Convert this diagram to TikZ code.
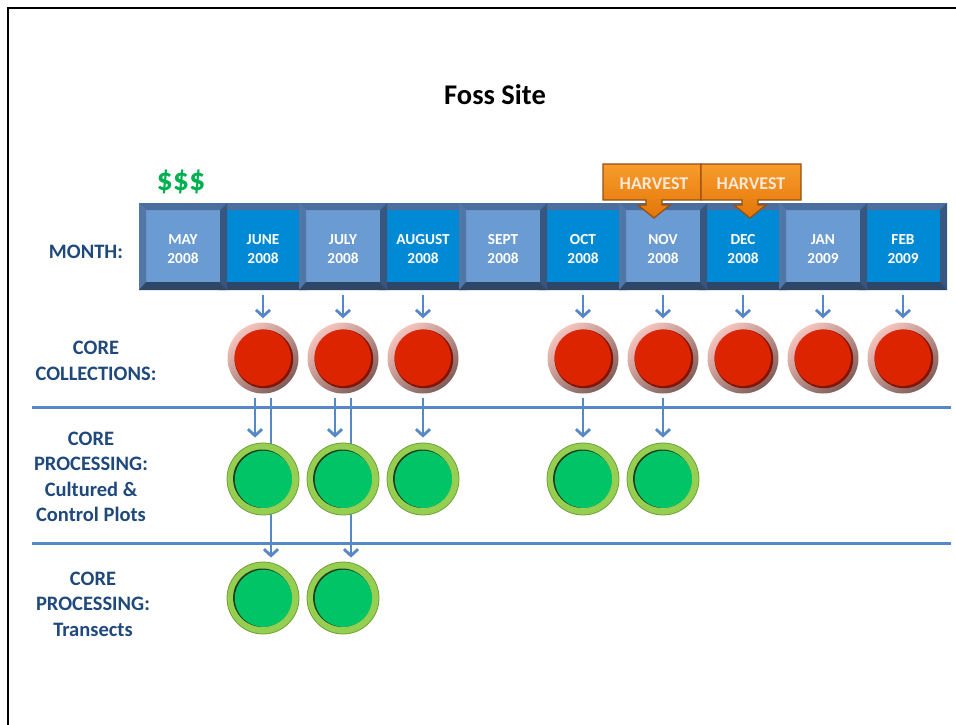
\documentclass[tikz,border=0pt]{standalone}
\usepackage{fontspec}
\setmainfont{Carlito}
\usetikzlibrary{arrows.meta}
\pgfdeclarelayer{bg}
\pgfdeclarelayer{paper}
\pgfsetlayers{paper,bg,main}

\definecolor{lface}{RGB}{106,155,210}
\definecolor{dface}{RGB}{0,137,212}
\definecolor{bvT}{RGB}{74,110,158}
\definecolor{bvL}{RGB}{82,118,165}
\definecolor{bvR}{RGB}{56,86,126}
\definecolor{bvB}{RGB}{46,70,104}
\definecolor{labblue}{RGB}{31,73,125}
\definecolor{connc}{RGB}{86,136,198}
\definecolor{moneyg}{RGB}{0,176,80}
\definecolor{rtop}{RGB}{246,196,190}
\definecolor{rbot}{RGB}{128,92,88}
\definecolor{rcore}{RGB}{220,36,0}
\definecolor{rdark}{RGB}{130,20,5}
\definecolor{gring}{RGB}{150,206,82}
\definecolor{gedge}{RGB}{112,160,52}
\definecolor{gcore}{RGB}{0,196,102}
\definecolor{gdark}{RGB}{30,60,30}
\definecolor{otop}{RGB}{248,156,44}
\definecolor{obot}{RGB}{226,118,8}
\definecolor{oedge}{RGB}{150,80,18}
\definecolor{otext}{RGB}{252,232,216}

\tikzset{
  monthbox/.style={rectangle, minimum width=88pt, minimum height=87pt, inner sep=0pt,
    path picture={
      \fill[bvT] (path picture bounding box.north west) -- (path picture bounding box.north east)
        -- ([shift={(-7pt,-7pt)}]path picture bounding box.north east)
        -- ([shift={(7pt,-7pt)}]path picture bounding box.north west) -- cycle;
      \fill[bvL] (path picture bounding box.north west) -- (path picture bounding box.south west)
        -- ([shift={(7pt,8pt)}]path picture bounding box.south west)
        -- ([shift={(7pt,-7pt)}]path picture bounding box.north west) -- cycle;
      \fill[bvR] (path picture bounding box.north east) -- (path picture bounding box.south east)
        -- ([shift={(-7pt,8pt)}]path picture bounding box.south east)
        -- ([shift={(-7pt,-7pt)}]path picture bounding box.north east) -- cycle;
      \fill[bvB] (path picture bounding box.south west) -- (path picture bounding box.south east)
        -- ([shift={(-7pt,8pt)}]path picture bounding box.south east)
        -- ([shift={(7pt,8pt)}]path picture bounding box.south west) -- cycle;
    }},
  lightbox/.style={monthbox, fill=lface},
  darkbox/.style={monthbox, fill=dface},
  mtext/.style={align=center, text=white, inner sep=0pt, font=\fontsize{15.3}{19.5}\selectfont\bfseries},
  redc/.style={circle, minimum size=71pt, inner sep=0pt,
    top color=rtop, bottom color=rbot, shading angle=40,
    path picture={
      \fill[rdark] ([shift={(0.9pt,-0.9pt)}]path picture bounding box.center) circle (29.3pt);
      \fill[rcore] ([shift={(-0.3pt,0.3pt)}]path picture bounding box.center) circle (28.2pt);
    }},
  greenc/.style={circle, minimum size=72pt, inner sep=0pt, fill=gring, draw=gedge, line width=0.8pt,
    path picture={
      \fill[gdark] ([shift={(-0.7pt,0.3pt)}]path picture bounding box.center) circle (29.2pt);
      \fill[gcore] ([shift={(0.4pt,-0.3pt)}]path picture bounding box.center) circle (28.6pt);
    }},
  lab/.style={align=center, text=labblue, font=\fontsize{20.5}{25.5}\selectfont\bfseries},
  conn/.style={draw=connc, line width=2.8pt, -{Straight Barb[length=6.5pt,width=14pt]}},
  sepline/.style={draw=connc, line width=3pt},
  callout/.style={top color=otop, bottom color=obot, draw=oedge, line width=1.3pt, line join=miter},
  htext/.style={text=otext, font=\fontsize{18}{20}\selectfont\bfseries},
}

\begin{document}
\begin{tikzpicture}[x=1pt,y=-1pt]
\useasboundingbox (0,0) rectangle (956,724);
\begin{pgfonlayer}{paper}
\fill[white] (0,0) rectangle (956,724);
\end{pgfonlayer}

% frame
\coordinate (fbl) at (8,730);
\coordinate (ftl) at (8,8);
\coordinate (ftr) at (962,8);
\draw[line width=2.6pt, line join=miter] (fbl) -- (ftl) -- (ftr);

% title and money
\node[font=\fontsize{28.5}{32}\selectfont\bfseries] (title) at (495,95) {Foss Site};
\node[text=moneyg, font=\fontsize{32}{35}\selectfont\bfseries] (money) at (181,182) {\$\$\$};

% month boxes: dark ones first, light ones on top
\foreach \i in {1,3,5,7,9}
  \node[darkbox] (m\i) at ({183+80*\i},246.5) {};
\foreach \i in {0,2,4,6,8}
  \node[lightbox] (m\i) at ({183+80*\i},246.5) {};
\foreach \i/\mo/\yr in {0/MAY/2008, 1/JUNE/2008, 2/JULY/2008, 3/AUGUST/2008, 4/SEPT/2008,
                        5/OCT/2008, 6/NOV/2008, 7/DEC/2008, 8/JAN/2009, 9/FEB/2009}
  \node[mtext] (mt\i) at ({183+80*\i},249) {\mo\\\yr};

% harvest callouts
\path[callout] (603,164) -- (701,164) -- (701,200) -- (662,200) -- (662,205) -- (670,205)
  -- (654,218) -- (638,205) -- (646,205) -- (646,200) -- (603,200) -- cycle;
\path[callout] (701,164) -- (801,164) -- (801,200) -- (758,200) -- (758,205) -- (766,205)
  -- (750,218) -- (734,205) -- (742,205) -- (742,200) -- (701,200) -- cycle;
\node[htext] (h1) at (654,184) {HARVEST};
\node[htext] (h2) at (751,184) {HARVEST};

% row labels
\node[lab] (lmonth) at (86,252) {MONTH:};
\node[lab] (lcoll) at (96,361) {CORE\\COLLECTIONS:};
\node[lab] (lcult) at (91,477) {CORE\\PROCESSING:\\Cultured \&\\Control Plots};
\node[lab] (ltran) at (93,604) {CORE\\PROCESSING:\\Transects};

% separators
\coordinate (s1a) at (32,407);
\coordinate (s1b) at (951,407);
\coordinate (s2a) at (32,543);
\coordinate (s2b) at (951,543);
\begin{pgfonlayer}{bg}
\draw[sepline] (s1a) -- (s1b);
\draw[sepline] (s2a) -- (s2b);
\end{pgfonlayer}

% circles
\foreach \i in {1,2,3,5,6,7,8,9}
  \node[redc] (r\i) at ({183+80*\i},358) {};
\foreach \i in {1,2,3,5,6}
  \node[greenc] (g\i) at ({183+80*\i},479) {};
\foreach \i in {1,2}
  \node[greenc] (t\i) at ({183+80*\i},598) {};

% connectors
\begin{pgfonlayer}{bg}
\foreach \i in {1,2,3,5,6,7,8,9}
  \draw[conn] ([yshift=-5pt]m\i.south) -- ([yshift=4pt]r\i.north);
\foreach \i in {3,5,6}
  \draw[conn] ([yshift=-4.5pt]r\i.south) -- ([yshift=5pt]g\i.north);
\foreach \i in {1,2} {
  \draw[conn] ([xshift=-8pt,yshift=-4.5pt]r\i.south) -- ([xshift=-8pt,yshift=5pt]g\i.north);
  \draw[conn] ([xshift=8pt,yshift=-4.5pt]r\i.south) -- ([xshift=8pt,yshift=4pt]t\i.north);
}
\end{pgfonlayer}
\end{tikzpicture}
\end{document}
